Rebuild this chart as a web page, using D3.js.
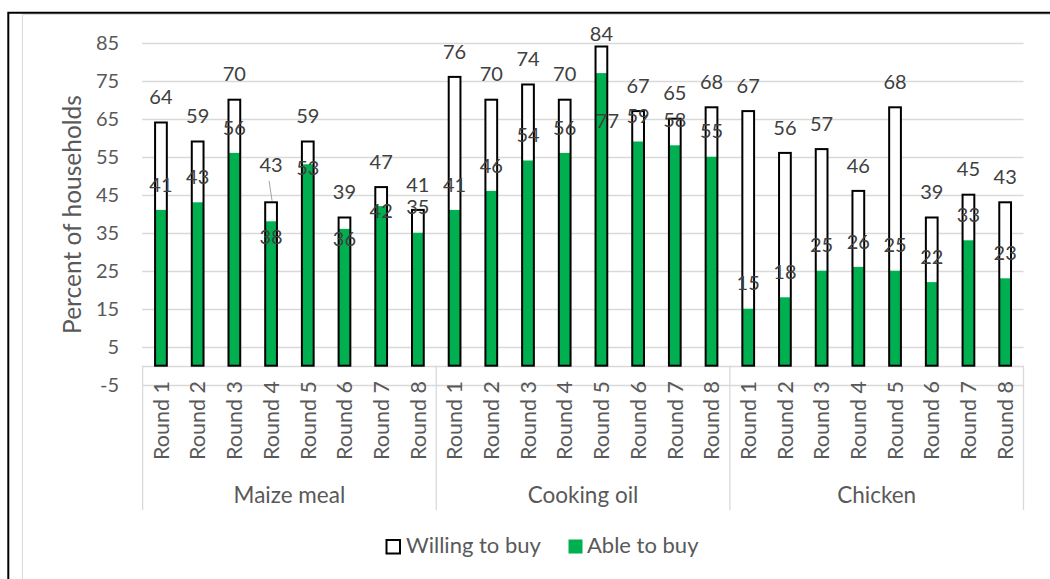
<!DOCTYPE html>
<html>
<head>
<meta charset="utf-8">
<script src="https://cdn.jsdelivr.net/npm/d3@7"></script>
<style>
  html, body { margin: 0; padding: 0; background: #fff; }
  svg { display: block; font-family: Lato, "Noto Sans", sans-serif; }
</style>
</head>
<body>
<svg id="chart" width="1050" height="579"></svg>
<script>
// Commodity groups and survey rounds
const groups = ["Maize meal", "Cooking oil", "Chicken"];
const rounds = ["Round 1", "Round 2", "Round 3", "Round 4", "Round 5", "Round 6", "Round 7", "Round 8"];

// Percent of households, per group, round by round
const willingMaize   = [64, 59, 70, 43, 59, 39, 47, 41];
const ableMaize      = [41, 43, 56, 38, 53, 36, 42, 35];
const willingOil     = [76, 70, 74, 70, 84, 67, 65, 68];
const ableOil        = [41, 46, 54, 56, 77, 59, 58, 55];
const willingChicken = [67, 56, 57, 46, 68, 39, 45, 43];
const ableChicken    = [15, 18, 25, 26, 25, 22, 33, 23];

// Value axis ticks
const yTicks = [-5, 5, 15, 25, 35, 45, 55, 65, 75, 85];

const seriesNames = ["Willing to buy", "Able to buy"];

// Flat rows for drawing
const willingAll = [willingMaize, willingOil, willingChicken];
const ableAll = [ableMaize, ableOil, ableChicken];
const rows = [];
groups.forEach((g, gi) => {
  rounds.forEach((r, ri) => {
    rows.push({ key: g + "|" + r, group: g, round: r, gi, ri,
                willing: willingAll[gi][ri], able: ableAll[gi][ri] });
  });
});

// Label placement tweaks (vertical offset of label centre from the bar top, px)
const defaultLabelOffset = -25.5;
const willingLabelTweak = { "Maize meal|Round 4": { dy: -38, leader: true },
                            "Cooking oil|Round 5": { dy: -13 } };
const ableLabelTweak = { "Maize meal|Round 4": { dy: 15 },
                         "Maize meal|Round 5": { dy: 3 },
                         "Maize meal|Round 6": { dy: 10 },
                         "Maize meal|Round 7": { dy: 5 },
                         "Cooking oil|Round 5": { dy: 48, dx: 6 } };

const svg = d3.select("#chart");
const plotLeft = 142.6, plotRight = 1023.5;

const x = d3.scaleBand()
  .domain(rows.map(d => d.key))
  .range([plotLeft, plotRight])
  .paddingInner(0.68)
  .paddingOuter(0.34);

const y = d3.scaleLinear().domain([-5, 85]).range([384.7, 42.7]);

const gridColor = "#D9D9D9";
const textColor = "#595959";
const labelColor = "#404040";
const green = "#00B050";

// Outer frame
svg.append("path").attr("d", "M22.5,579 V14.5 H1050")
  .attr("fill", "none").attr("stroke", gridColor).attr("stroke-width", 1);
svg.append("path").attr("d", "M8.3,579 V12.8 H1050")
  .attr("fill", "none").attr("stroke", "#000").attr("stroke-width", 2);

// Gridlines
svg.append("g").selectAll("line").data(yTicks).join("line")
  .attr("x1", plotLeft - 0.5).attr("x2", plotRight)
  .attr("y1", d => Math.round(y(d)) + 0.5).attr("y2", d => Math.round(y(d)) + 0.5)
  .attr("stroke", gridColor).attr("stroke-width", 1.3);

// Value axis labels
const yAxis = svg.append("g")
  .attr("transform", `translate(${plotLeft},0)`)
  .call(d3.axisLeft(y).tickValues(yTicks).tickFormat(d => String(d))
    .tickSize(0).tickPadding(23.5));
yAxis.select(".domain").remove();
yAxis.selectAll("text").attr("fill", textColor).attr("font-size", 20)
  .attr("font-family", "Lato, 'Noto Sans', sans-serif");

// Category axis line at zero
svg.append("line")
  .attr("x1", plotLeft).attr("x2", plotRight)
  .attr("y1", Math.round(y(0)) + 0.5).attr("y2", Math.round(y(0)) + 0.5)
  .attr("stroke", gridColor).attr("stroke-width", 1.3);

// Group separators in the multi-level category axis
const step = x.step();
const sepX = d3.range(groups.length + 1).map(i => plotLeft + i * rounds.length * step);
svg.append("g").selectAll("line").data(sepX).join("line")
  .attr("x1", d => d).attr("x2", d => d)
  .attr("y1", y(0)).attr("y2", 510)
  .attr("stroke", gridColor).attr("stroke-width", 1.3);

// Bars
const bw = x.bandwidth();
const bars = svg.append("g");
bars.selectAll("rect.willing-bg").data(rows).join("rect")
  .attr("class", "willing-bg")
  .attr("x", d => x(d.key)).attr("width", bw)
  .attr("y", d => y(d.willing)).attr("height", d => y(0) - y(d.willing))
  .attr("fill", "#fff");
bars.selectAll("rect.able").data(rows).join("rect")
  .attr("class", "able")
  .attr("x", d => x(d.key)).attr("width", bw)
  .attr("y", d => y(d.able)).attr("height", d => y(0) - y(d.able))
  .attr("fill", green);
bars.selectAll("rect.willing").data(rows).join("rect")
  .attr("class", "willing")
  .attr("x", d => x(d.key)).attr("width", bw)
  .attr("y", d => y(d.willing)).attr("height", d => y(0) - y(d.willing))
  .attr("fill", "none").attr("stroke", "#000").attr("stroke-width", 2);

// Data labels
const labels = svg.append("g").attr("font-size", 20).attr("fill", labelColor)
  .attr("text-anchor", "middle");
function labelPos(d, value, tweaks) {
  const t = tweaks[d.key] || {};
  const cx = x(d.key) + bw / 2 + (t.dx || 0);
  const cy = y(value) + (t.dy !== undefined ? t.dy : defaultLabelOffset);
  return { cx, cy, leader: !!t.leader };
}
rows.forEach(d => {
  const p = labelPos(d, d.willing, willingLabelTweak);
  if (p.leader) {
    labels.append("line")
      .attr("x1", p.cx - 2).attr("y1", p.cy + 16.5)
      .attr("x2", p.cx + 1).attr("y2", y(d.willing) - 1.5)
      .attr("stroke", "#A6A6A6").attr("stroke-width", 1);
  }
  labels.append("text").attr("x", p.cx).attr("y", p.cy).attr("dy", "0.36em")
    .text(d.willing);
});
rows.forEach(d => {
  const p = labelPos(d, d.able, ableLabelTweak);
  labels.append("text").attr("x", p.cx).attr("y", p.cy).attr("dy", "0.36em")
    .text(d.able);
});

// Round labels (rotated)
svg.append("g").selectAll("text").data(rows).join("text")
  .attr("transform", d => `translate(${x(d.key) + bw / 2},381) rotate(-90)`)
  .attr("text-anchor", "end").attr("dy", "0.36em")
  .attr("font-size", 21.5).attr("fill", textColor)
  .text(d => d.round);

// Group labels
svg.append("g").selectAll("text").data(groups).join("text")
  .attr("x", (d, i) => (sepX[i] + sepX[i + 1]) / 2).attr("y", 503)
  .attr("text-anchor", "middle").attr("font-size", 22.5).attr("fill", textColor)
  .text(d => d);

// Value axis title
svg.append("text")
  .attr("transform", "translate(72.5,214.5) rotate(-90)")
  .attr("text-anchor", "middle").attr("dy", "0.36em")
  .attr("font-size", 24.5).attr("fill", textColor)
  .text("Percent of households");

// Legend
const legend = svg.append("g").attr("font-size", 22).attr("fill", textColor);
legend.append("rect").attr("x", 386.5).attr("y", 540).attr("width", 13.5).attr("height", 13.5)
  .attr("fill", "#fff").attr("stroke", "#000").attr("stroke-width", 2);
legend.append("text").attr("x", 406).attr("y", 552.5).text(seriesNames[0]);
legend.append("rect").attr("x", 568.5).attr("y", 539.5).attr("width", 14).attr("height", 14)
  .attr("fill", green);
legend.append("text").attr("x", 587).attr("y", 552.5).text(seriesNames[1]);
</script>
</body>
</html>
